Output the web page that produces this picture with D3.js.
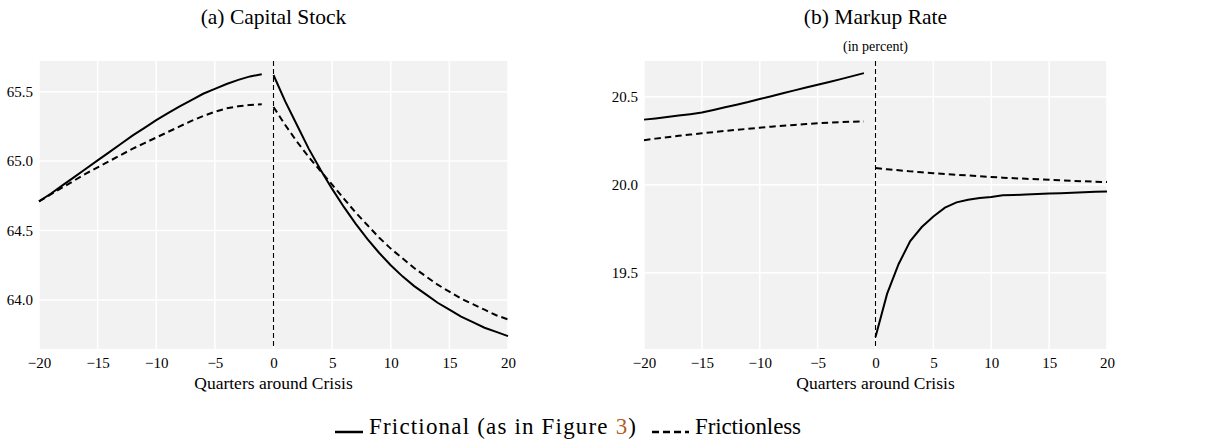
<!DOCTYPE html>
<html>
<head>
<meta charset="utf-8">
<script src="https://cdn.jsdelivr.net/npm/d3@7"></script>
<style>
  body { margin: 0; background: #fff; }
  svg { display: block; }
  text { font-family: "Liberation Serif", Tinos, "Times New Roman", Times, "DejaVu Serif", serif; }
</style>
</head>
<body>
<div id="chart"></div>
<script>
// quarters around the crisis
const preQuarters = [-20, -19, -18, -17, -16, -15, -14, -13, -12, -11, -10, -9, -8, -7, -6, -5, -4, -3, -2, -1];
const postQuarters = [0, 1, 2, 3, 4, 5, 6, 7, 8, 9, 10, 11, 12, 13, 14, 15, 16, 17, 18, 19, 20];
const xTicks = [-20, -15, -10, -5, 0, 5, 10, 15, 20];

// (a) capital stock
const capitalFrictionalPre = [64.71, 64.765, 64.825, 64.885, 64.945, 65.005, 65.065, 65.125, 65.185, 65.24, 65.295, 65.345, 65.395, 65.44, 65.485, 65.52, 65.555, 65.585, 65.61, 65.625];
const capitalFrictionalPost = [65.62, 65.43, 65.26, 65.09, 64.94, 64.80, 64.67, 64.55, 64.44, 64.34, 64.25, 64.17, 64.10, 64.04, 63.98, 63.93, 63.88, 63.84, 63.80, 63.77, 63.74];
const capitalFrictionlessPre = [64.71, 64.76, 64.81, 64.86, 64.91, 64.955, 65.0, 65.045, 65.09, 65.13, 65.17, 65.21, 65.25, 65.29, 65.325, 65.355, 65.38, 65.395, 65.405, 65.41];
const capitalFrictionlessPost = [65.39, 65.26, 65.14, 65.03, 64.93, 64.83, 64.73, 64.63, 64.54, 64.45, 64.37, 64.30, 64.23, 64.17, 64.11, 64.06, 64.01, 63.97, 63.93, 63.89, 63.86];
const capitalTicks = [64.0, 64.5, 65.0, 65.5];

// (b) markup rate, in percent
const markupFrictionalPre = [20.370, 20.377, 20.385, 20.393, 20.401, 20.41, 20.425, 20.44, 20.455, 20.47, 20.487, 20.503, 20.52, 20.536, 20.552, 20.568, 20.584, 20.600, 20.617, 20.634];
const markupFrictionalPost = [19.135, 19.38, 19.55, 19.68, 19.76, 19.82, 19.87, 19.90, 19.915, 19.925, 19.93, 19.94, 19.942, 19.945, 19.947, 19.95, 19.952, 19.955, 19.958, 19.96, 19.962];
const markupFrictionlessPre = [20.253, 20.262, 20.270, 20.278, 20.285, 20.292, 20.299, 20.306, 20.312, 20.318, 20.324, 20.330, 20.335, 20.340, 20.345, 20.349, 20.353, 20.356, 20.358, 20.36];
const markupFrictionlessPost = [20.095, 20.088, 20.082, 20.076, 20.071, 20.066, 20.061, 20.057, 20.053, 20.048, 20.044, 20.040, 20.037, 20.034, 20.031, 20.028, 20.025, 20.022, 20.020, 20.017, 20.015];
const markupTicks = [19.5, 20.0, 20.5];

const svg = d3.select('#chart').append('svg')
    .attr('width', 1209)
    .attr('height', 441);

function drawPanel({left, right, top, bottom, yDomain, yTicks, title, subtitle, series}) {
    const x = d3.scaleLinear().domain([-20, 20]).range([left, right]);
    const y = d3.scaleLinear().domain(yDomain).range([bottom, top]);
    const g = svg.append('g');

    g.append('rect')
        .attr('x', left).attr('y', top)
        .attr('width', right - left).attr('height', bottom - top)
        .attr('fill', '#f2f2f2');

    // grid
    g.append('g').selectAll('line').data(xTicks).enter().append('line')
        .attr('x1', d => x(d)).attr('x2', d => x(d))
        .attr('y1', top).attr('y2', bottom)
        .attr('stroke', '#fff').attr('stroke-width', 1.5);
    g.append('g').selectAll('line').data(yTicks).enter().append('line')
        .attr('x1', left).attr('x2', right)
        .attr('y1', d => y(d)).attr('y2', d => y(d))
        .attr('stroke', '#fff').attr('stroke-width', 1.5);

    // axes, labels only
    const xAxis = g.append('g')
        .attr('transform', `translate(0,${bottom})`)
        .call(d3.axisBottom(x).tickValues(xTicks).tickSize(0).tickPadding(6).tickFormat(d3.format('d')));
    const yAxis = g.append('g')
        .attr('transform', `translate(${left},0)`)
        .call(d3.axisLeft(y).tickValues(yTicks).tickSize(0).tickPadding(6).tickFormat(d3.format('.1f')));
    [xAxis, yAxis].forEach(a => {
        a.attr('font-family', null).attr('font-size', null);
        a.select('.domain').remove();
        a.selectAll('text').style('font-size', '15px').attr('fill', '#000');
    });
    xAxis.selectAll('text').attr('dy', '0.85em');

    g.append('text')
        .attr('x', (left + right) / 2).attr('y', bottom + 40)
        .attr('text-anchor', 'middle')
        .style('font-size', '17.5px')
        .text('Quarters around Crisis');

    g.append('text')
        .attr('x', (left + right) / 2).attr('y', 24)
        .attr('text-anchor', 'middle')
        .style('font-size', '21.5px')
        .text(title);
    if (subtitle) {
        g.append('text')
            .attr('x', (left + right) / 2).attr('y', 51)
            .attr('text-anchor', 'middle')
            .style('font-size', '14px')
            .text(subtitle);
    }

    // crisis marker
    g.append('line')
        .attr('x1', x(0)).attr('x2', x(0))
        .attr('y1', top).attr('y2', bottom)
        .attr('stroke', '#000').attr('stroke-width', 1.1)
        .attr('stroke-dasharray', '5,3');

    const line = d3.line().x(d => x(d[0])).y(d => y(d[1]));
    series.forEach(s => {
        g.append('path')
            .datum(d3.zip(s.quarters, s.values))
            .attr('d', line)
            .attr('fill', 'none')
            .attr('stroke', '#000')
            .attr('stroke-width', 2)
            .attr('stroke-dasharray', s.dashed ? '6.5,4' : null);
    });
}

drawPanel({
    left: 39, right: 508, top: 61, bottom: 349,
    yDomain: [63.647, 65.721], yTicks: capitalTicks,
    title: '(a) Capital Stock',
    series: [
        {quarters: preQuarters, values: capitalFrictionalPre},
        {quarters: postQuarters, values: capitalFrictionalPost},
        {quarters: preQuarters, values: capitalFrictionlessPre, dashed: true},
        {quarters: postQuarters, values: capitalFrictionlessPost, dashed: true}
    ]
});

drawPanel({
    left: 644, right: 1107, top: 61, bottom: 349,
    yDomain: [19.067, 20.703], yTicks: markupTicks,
    title: '(b) Markup Rate', subtitle: '(in percent)',
    series: [
        {quarters: preQuarters, values: markupFrictionalPre},
        {quarters: postQuarters, values: markupFrictionalPost},
        {quarters: preQuarters, values: markupFrictionlessPre, dashed: true},
        {quarters: postQuarters, values: markupFrictionlessPost, dashed: true}
    ]
});

// Legend section
const legend = svg.append('g').style('font-size', '23px');
legend.append('line')
    .attr('x1', 335).attr('x2', 363).attr('y1', 432).attr('y2', 432)
    .attr('stroke', '#000').attr('stroke-width', 2.5);
const t1 = legend.append('text').attr('x', 369).attr('y', 434)
    .attr('textLength', 267).attr('lengthAdjust', 'spacing');
t1.append('tspan').text('Frictional (as in Figure ');
t1.append('tspan').attr('fill', '#b35f1f').text('3');
t1.append('tspan').text(')');
legend.append('line')
    .attr('x1', 652).attr('x2', 689).attr('y1', 432).attr('y2', 432)
    .attr('stroke', '#000').attr('stroke-width', 2.5)
    .attr('stroke-dasharray', '7,4');
legend.append('text').attr('x', 695).attr('y', 434)
    .attr('textLength', 106).attr('lengthAdjust', 'spacing')
    .text('Frictionless');
</script>
</body>
</html>
